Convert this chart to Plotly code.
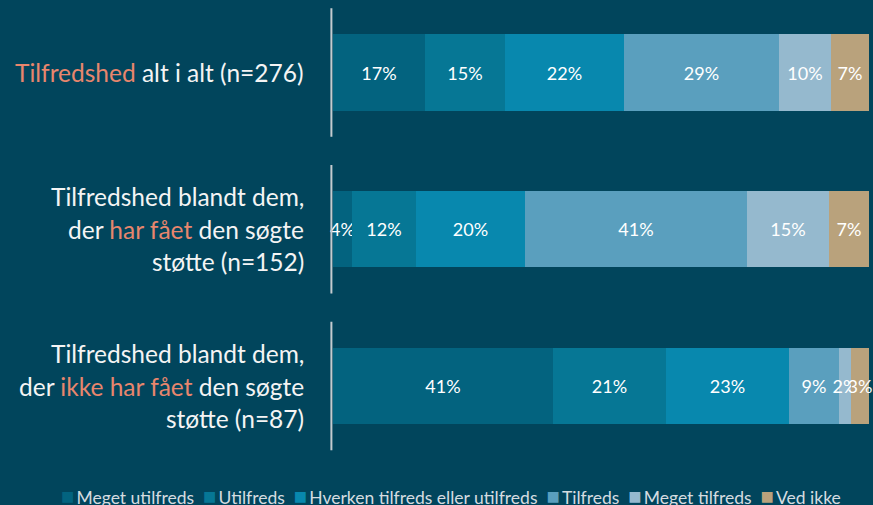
import plotly.graph_objects as go

# ---------------- data ----------------
categories = [
    "Tilfredshed alt i alt (n=276)",
    "Tilfredshed blandt dem, der har fået den søgte støtte (n=152)",
    "Tilfredshed blandt dem, der ikke har fået den søgte støtte (n=87)",
]
series_names = ["Meget utilfreds", "Utilfreds", "Hverken tilfreds eller utilfreds",
                "Tilfreds", "Meget tilfreds", "Ved ikke"]
meget_utilfreds = [17.2, 3.6, 41.1]
utilfreds = [14.9, 11.9, 21.0]
hverken = [22.2, 20.4, 23.0]
tilfreds = [28.9, 41.4, 9.3]
meget_tilfreds = [9.7, 15.3, 2.2]
ved_ikke = [7.1, 7.4, 3.4]

BG = "#01455C"
CORAL = "#E8866D"
colors = ["#03637F", "#067795", "#0888AE", "#5A9FBE", "#95B9CE", "#B9A27C"]

# label lines (rich text) for each category
label_lines = [
    [f"<span style='color:{CORAL}'>Tilfredshed</span> alt i alt (n=276)"],
    ["Tilfredshed blandt dem,",
     f"der <span style='color:{CORAL}'>har fået</span> den søgte",
     "støtte (n=152)"],
    ["Tilfredshed blandt dem,",
     f"der <span style='color:{CORAL}'>ikke har fået</span> den søgte",
     "støtte (n=87)"],
]

values = [meget_utilfreds, utilfreds, hverken, tilfreds, meget_tilfreds, ved_ikke]

fig = go.Figure()
for name, vals, col in zip(series_names, values, colors):
    fig.add_trace(go.Bar(
        y=categories, x=vals, name=name, orientation="h",
        marker=dict(color=col, line=dict(width=0)),
        width=0.485,
        texttemplate="%{x:.0f}%", textposition="inside", textangle=0,
        insidetextanchor="middle", constraintext="none",
        textfont=dict(family="Lato", size=18, color="#FFFFFF"),
        cliponaxis=False, showlegend=False,
    ))

shapes = []
annotations = []
LINE_H = 32.5
for i, cat in enumerate(categories):
    shapes.append(dict(type="line", xref="paper", yref="y",
                       x0=-0.003, x1=-0.003, y0=i - 0.41, y1=i + 0.41,
                       line=dict(color="#C5CBCF", width=2)))
    lines = label_lines[i]
    n = len(lines)
    for j, ln in enumerate(lines):
        annotations.append(dict(
            xref="paper", yref="y", x=-27 / 536, y=cat,
            yshift=-(j - (n - 1) / 2) * LINE_H,
            text=ln, showarrow=False, xanchor="right", yanchor="middle",
            font=dict(family="Lato", size=24.5, color="#F4F4F4"),
        ))

# legend built as text with coloured squares
sep = "&nbsp;&nbsp;"
legend_text = sep.join(
    f"<span style='color:{c};font-size:22px'>■</span>&#8201;{n}" for n, c in zip(series_names, colors)
)
annotations.append(dict(
    xref="paper", yref="paper", x=(451 - 333) / 536, y=-35 / 460,
    text=legend_text, showarrow=False, xanchor="center", yanchor="middle",
    font=dict(family="Lato", size=17.5, color="#D5DCE0"),
))

fig.update_layout(
    width=873, height=505,
    barmode="stack", bargap=0,
    paper_bgcolor=BG, plot_bgcolor=BG,
    margin=dict(l=333, r=4, t=0, b=45),
    xaxis=dict(range=[0, 100.05], visible=False, fixedrange=True),
    yaxis=dict(type="category", categoryarray=categories,
               range=[2.472, -0.4625], visible=False, fixedrange=True),
    shapes=shapes, annotations=annotations,
    uniformtext=dict(minsize=18, mode="show"),
    showlegend=False,
)

fig.write_html("out.html", config={"displayModeBar": False},
               post_script="document.body.style.margin='0';document.body.style.background='" + BG + "';")
